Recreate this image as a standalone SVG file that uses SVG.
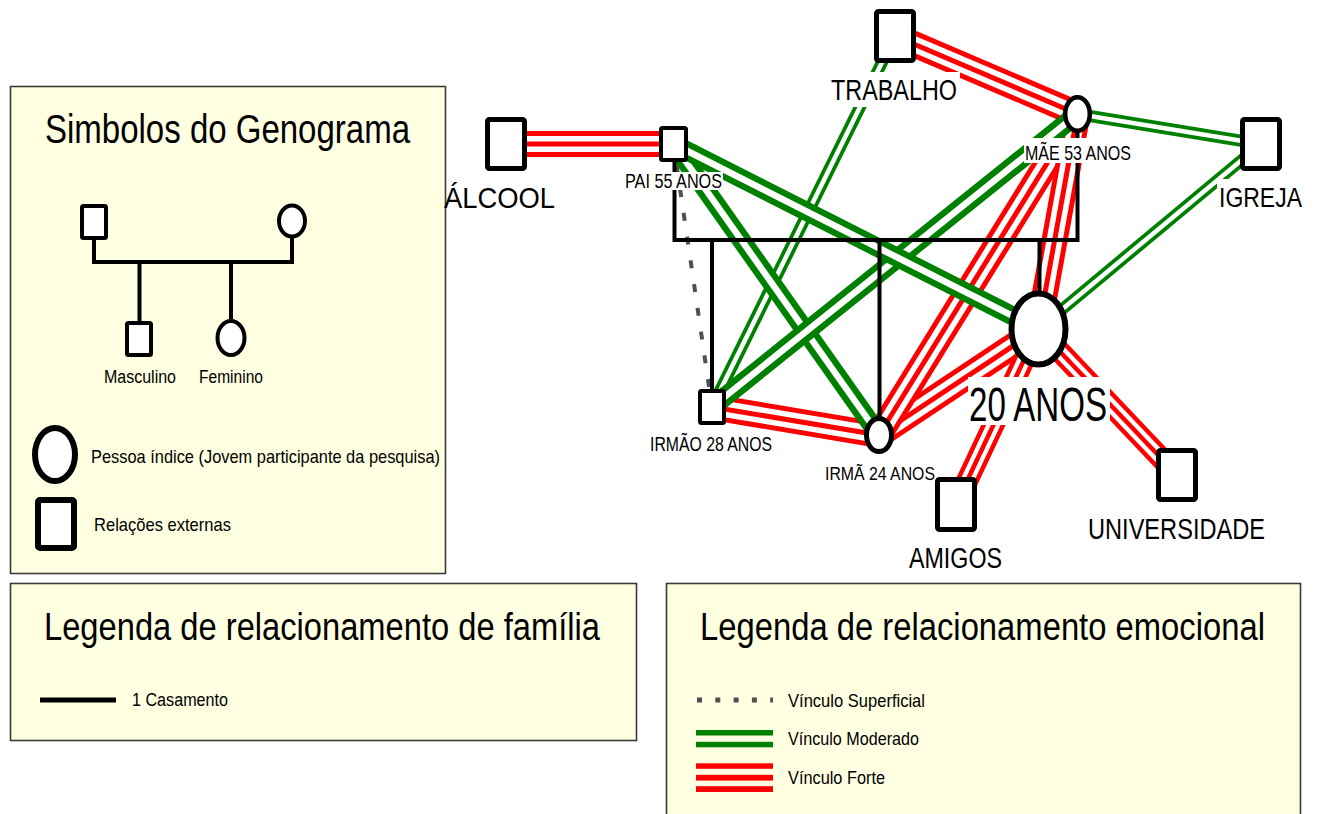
<svg xmlns="http://www.w3.org/2000/svg" xmlns:xlink="http://www.w3.org/1999/xlink" width="1317" height="814" viewBox="0 0 1317 814">
  <style>
    text { font-family: "Liberation Sans", Arial, "DejaVu Sans", sans-serif; fill: #000; }
    .panel { fill: #FFFFE1; stroke: #3a3a3a; stroke-width: 1.6; }
    .sq { fill: #fff; stroke: #000; stroke-linejoin: round; }
    .ci { fill: #fff; stroke: #000; }
    .fam { fill: none; stroke: #000; stroke-width: 4; stroke-linejoin: miter; }
    .lbl { fill: #fff; }
    /* strong bond: three red strokes */
    .f1 { stroke: #f00; stroke-width: 26; }
    .f2 { stroke: #fff; stroke-width: 16; }
    .f3 { stroke: #f00; stroke-width: 5; }
    .fs1 { stroke: #f00; stroke-width: 22; }
    .fs2 { stroke: #fff; stroke-width: 13; }
    .fs3 { stroke: #f00; stroke-width: 4.5; }
    /* moderate bond: two green strokes */
    .m1 { stroke: #008000; stroke-width: 19; }
    .m2 { stroke: #fff; stroke-width: 6.5; }
    .n1 { stroke: #008000; stroke-width: 12; }
    .n2 { stroke: #fff; stroke-width: 4.5; }
    /* superficial bond */
    .sup { stroke: #505050; stroke-width: 4; stroke-dasharray: 8 16; stroke-dashoffset: 2.4; fill: none; }
  </style>
  <defs>
    <line id="c-alc-pai" x1="506" y1="144" x2="673.5" y2="144"/>
    <line id="c-trab-mae" x1="895" y1="36" x2="1077.5" y2="114"/>
    <line id="c-mae-irma" x1="1077.5" y1="114" x2="879" y2="435"/>
    <line id="c-mae-ind" x1="1077.5" y1="114" x2="1038.5" y2="329"/>
    <line id="c-irmao-irma" x1="712" y1="407" x2="879" y2="435"/>
    <line id="c-irma-ind" x1="879" y1="435" x2="1038.5" y2="329"/>
    <line id="c-ami-ind" x1="956" y1="504.5" x2="1038.5" y2="329"/>
    <line id="c-uni-ind" x1="1177" y1="475" x2="1038.5" y2="329"/>
    <line id="c-pai-ind" x1="673.5" y1="144" x2="1038.5" y2="329"/>
    <line id="c-pai-irma" x1="673.5" y1="144" x2="879" y2="435"/>
    <line id="c-mae-irmao" x1="1077.5" y1="114" x2="712" y2="407"/>
    <line id="c-trab-irmao" x1="895" y1="36" x2="712" y2="407"/>
    <line id="c-mae-igr" x1="1077.5" y1="114" x2="1261" y2="144"/>
    <line id="c-igr-ind" x1="1261" y1="144" x2="1038.5" y2="329"/>
  </defs>

  <!-- legend panels -->
  <g id="simbolos">
    <rect class="panel" x="10.5" y="86.5" width="435" height="487"/>
    <text x="45" y="143" font-size="40" textLength="365" lengthAdjust="spacingAndGlyphs">Simbolos do Genograma</text>
    <path class="fam" d="M94 238 V262 H292 V236 M139.5 262 V321 M231 262 V319"/>
    <rect class="sq" x="82" y="206" width="24" height="32" rx="1.5" stroke-width="4"/>
    <ellipse class="ci" cx="292" cy="221" rx="13" ry="15.5" stroke-width="4"/>
    <rect class="sq" x="127" y="323" width="24" height="32" rx="1.5" stroke-width="4"/>
    <ellipse class="ci" cx="231" cy="338" rx="13.5" ry="17" stroke-width="4"/>
    <text x="104" y="383" font-size="18" textLength="72" lengthAdjust="spacingAndGlyphs">Masculino</text>
    <text x="199" y="383" font-size="18" textLength="64" lengthAdjust="spacingAndGlyphs">Feminino</text>
    <ellipse class="ci" cx="55" cy="454.5" rx="20" ry="26.5" stroke-width="6"/>
    <text x="91" y="463" font-size="19" textLength="349" lengthAdjust="spacingAndGlyphs">Pessoa índice (Jovem participante da pesquisa)</text>
    <rect class="sq" x="38" y="500" width="36" height="48" rx="2" stroke-width="6"/>
    <text x="94" y="531" font-size="19" textLength="137" lengthAdjust="spacingAndGlyphs">Relações externas</text>
  </g>

  <g id="legenda-familia">
    <rect class="panel" x="10.5" y="583.5" width="626" height="157"/>
    <text transform="translate(44 640) scale(0.86 1)" font-size="39" textLength="646.5" lengthAdjust="spacingAndGlyphs">Legenda de relacionamento de família</text>
    <line x1="40" y1="700" x2="116" y2="700" stroke="#000" stroke-width="5"/>
    <text x="132" y="706" font-size="18" textLength="96" lengthAdjust="spacingAndGlyphs">1 Casamento</text>
  </g>

  <g id="legenda-emocional">
    <rect class="panel" x="666.5" y="583.5" width="634" height="250"/>
    <text transform="translate(700 640) scale(0.84 1)" font-size="39" textLength="672.6" lengthAdjust="spacingAndGlyphs">Legenda de relacionamento emocional</text>
    <line x1="697" y1="700" x2="773" y2="700" stroke="#505050" stroke-width="5" stroke-dasharray="5 13.3"/>
    <text x="788" y="706.5" font-size="19" textLength="137" lengthAdjust="spacingAndGlyphs">Vínculo Superficial</text>
    <rect x="696" y="730" width="77" height="5.5" fill="#008000"/>
    <rect x="696" y="741.8" width="77" height="5.5" fill="#008000"/>
    <text x="788" y="745" font-size="19" textLength="131" lengthAdjust="spacingAndGlyphs">Vínculo Moderado</text>
    <rect x="696" y="763.3" width="77" height="5.5" fill="#f00"/>
    <rect x="696" y="774.8" width="77" height="5.8" fill="#f00"/>
    <rect x="696" y="786.2" width="77" height="5.8" fill="#f00"/>
    <text x="788" y="783.5" font-size="19" textLength="97" lengthAdjust="spacingAndGlyphs">Vínculo Forte</text>
  </g>

  <!-- emotional connectors -->
  <g id="conectores">
    <g id="forte">
      <use xlink:href="#c-alc-pai" class="f1"/><use xlink:href="#c-alc-pai" class="f2"/><use xlink:href="#c-alc-pai" class="f3"/>
      <use xlink:href="#c-trab-mae" class="f1"/><use xlink:href="#c-trab-mae" class="f2"/><use xlink:href="#c-trab-mae" class="f3"/>
      <use xlink:href="#c-irmao-irma" class="f1"/><use xlink:href="#c-irmao-irma" class="f2"/><use xlink:href="#c-irmao-irma" class="f3"/>
      <use xlink:href="#c-irma-ind" class="f1"/><use xlink:href="#c-irma-ind" class="f2"/><use xlink:href="#c-irma-ind" class="f3"/>
      <use xlink:href="#c-mae-irma" class="f1"/><use xlink:href="#c-mae-irma" class="f2"/><use xlink:href="#c-mae-irma" class="f3"/>
      <use xlink:href="#c-mae-ind" class="f1"/><use xlink:href="#c-mae-ind" class="f2"/><use xlink:href="#c-mae-ind" class="f3"/>
      <use xlink:href="#c-ami-ind" class="fs1"/><use xlink:href="#c-ami-ind" class="fs2"/><use xlink:href="#c-ami-ind" class="fs3"/>
      <use xlink:href="#c-uni-ind" class="fs1"/><use xlink:href="#c-uni-ind" class="fs2"/><use xlink:href="#c-uni-ind" class="fs3"/>
    </g>
    <g id="moderado">
      <use xlink:href="#c-trab-irmao" class="n1"/><use xlink:href="#c-trab-irmao" class="n2"/>
      <use xlink:href="#c-mae-igr" class="n1"/><use xlink:href="#c-mae-igr" class="n2"/>
      <use xlink:href="#c-igr-ind" class="n1"/><use xlink:href="#c-igr-ind" class="n2"/>
      <use xlink:href="#c-pai-irma" class="m1"/><use xlink:href="#c-pai-irma" class="m2"/>
      <use xlink:href="#c-mae-irmao" class="m1"/><use xlink:href="#c-mae-irmao" class="m2"/>
      <use xlink:href="#c-pai-ind" class="m1"/><use xlink:href="#c-pai-ind" class="m2"/>
    </g>
    <g id="superficial">
      <line class="sup" x1="673.5" y1="144" x2="712" y2="407"/>
    </g>
    <!-- marriage and descent lines -->
    <g id="familia">
      <path class="fam" d="M674.5 158 V240 H1077.5 V130"/>
      <path class="fam" d="M712 240 V391 M879.5 240 V419 M1039.5 240 V293"/>
    </g>
  </g>

  <!-- nodes -->
  <g id="alcool">
    <rect class="sq" x="487.5" y="119.5" width="37" height="49" rx="2" stroke-width="5"/>
    <text x="444" y="208" font-size="29" textLength="111" lengthAdjust="spacingAndGlyphs">ÁLCOOL</text>
  </g>
  <g id="pai">
    <rect class="sq" x="661" y="128" width="25" height="32" rx="1.5" stroke-width="4"/>
    <rect class="lbl" x="624" y="172" width="99" height="18"/>
    <text x="625" y="188" font-size="20" textLength="97" lengthAdjust="spacingAndGlyphs">PAI 55 ANOS</text>
  </g>
  <g id="trabalho">
    <rect class="sq" x="876.5" y="11.5" width="37" height="49" rx="2" stroke-width="5"/>
    <rect class="lbl" x="828" y="72" width="132" height="35"/>
    <text x="831" y="100" font-size="29" textLength="126" lengthAdjust="spacingAndGlyphs">TRABALHO</text>
  </g>
  <g id="mae">
    <ellipse class="ci" cx="1077.5" cy="114" rx="12.3" ry="16.7" stroke-width="4.5"/>
    <rect class="lbl" x="1024" y="138" width="108" height="25"/>
    <text x="1025" y="160" font-size="21" textLength="106" lengthAdjust="spacingAndGlyphs">MÃE 53 ANOS</text>
  </g>
  <g id="igreja">
    <rect class="sq" x="1242.5" y="119.5" width="37" height="49" rx="2" stroke-width="5"/>
    <rect class="lbl" x="1217" y="179" width="86" height="34"/>
    <text transform="translate(1219 207) scale(0.82 1)" font-size="28" textLength="101.2" lengthAdjust="spacingAndGlyphs">IGREJA</text>
  </g>
  <g id="indice">
    <ellipse class="ci" cx="1038.5" cy="329" rx="27" ry="35.5" stroke-width="6"/>
    <rect class="lbl" x="968" y="377" width="142" height="48"/>
    <text x="969" y="421" font-size="49" textLength="138" lengthAdjust="spacingAndGlyphs">20 ANOS</text>
  </g>
  <g id="irmao">
    <rect class="sq" x="700" y="391" width="24" height="32" rx="1.5" stroke-width="4"/>
    <rect class="lbl" x="648" y="434" width="126" height="22"/>
    <text x="650" y="451" font-size="20" textLength="122" lengthAdjust="spacingAndGlyphs">IRMÃO 28 ANOS</text>
  </g>
  <g id="irma">
    <ellipse class="ci" cx="879" cy="435" rx="12.5" ry="16.5" stroke-width="5"/>
    <rect class="lbl" x="823" y="463" width="113" height="22"/>
    <text x="825" y="480" font-size="19" textLength="110" lengthAdjust="spacingAndGlyphs">IRMÃ 24 ANOS</text>
  </g>
  <g id="amigos">
    <rect class="sq" x="937.5" y="479.5" width="37" height="50" rx="2" stroke-width="5"/>
    <text x="909" y="568" font-size="30" textLength="93" lengthAdjust="spacingAndGlyphs">AMIGOS</text>
  </g>
  <g id="universidade">
    <rect class="sq" x="1158.5" y="450.5" width="37" height="49" rx="2" stroke-width="5"/>
    <text x="1088" y="539" font-size="29" textLength="177" lengthAdjust="spacingAndGlyphs">UNIVERSIDADE</text>
  </g>
</svg>
